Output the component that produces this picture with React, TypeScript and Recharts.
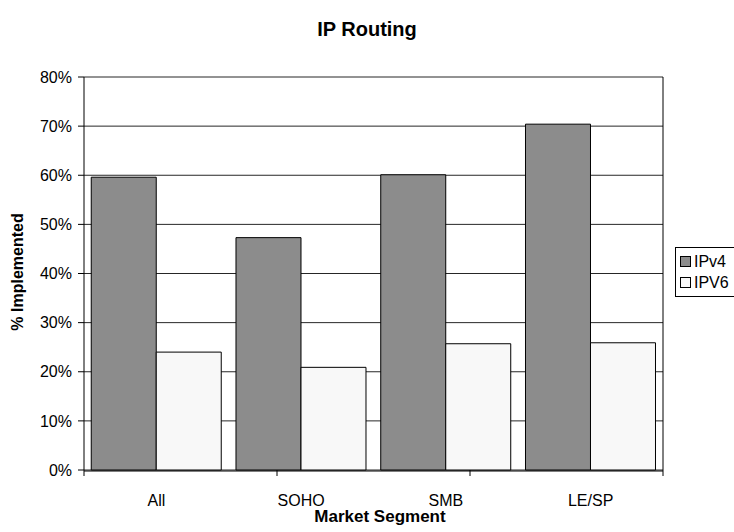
import { Bar, BarChart, CartesianGrid, Legend, XAxis, YAxis } from 'recharts';

const segments = ['All', 'SOHO', 'SMB', 'LE/SP'];
const ipv4 = [59.6, 47.3, 60.1, 70.4];
const ipv6 = [24.0, 20.9, 25.7, 25.9];
const yTicks = [0, 10, 20, 30, 40, 50, 60, 70, 80];
const boundaryTicks = [0, 1, 2, 3, 4];

const data = segments.map((segment, i) => ({ segment, ipv4: ipv4[i], ipv6: ipv6[i] }));

const font = '"Liberation Sans", Arial, sans-serif';

function LegendBox() {
  const item = (fill: string, label: string) => (
    <div style={{ display: 'flex', alignItems: 'center', height: 21 }}>
      <span
        style={{
          width: 9,
          height: 9,
          background: fill,
          border: '1px solid #000',
          marginRight: 3,
          display: 'inline-block',
        }}
      />
      <span>{label}</span>
    </div>
  );
  return (
    <div
      style={{
        border: '1px solid #000',
        width: 64,
        padding: '3px 0 3px 4px',
        fontFamily: font,
        fontSize: 16,
        color: '#000',
        background: '#fff',
      }}
    >
      {item('#8c8c8c', 'IPv4')}
      {item('#f8f8f8', 'IPV6')}
    </div>
  );
}

export default function App() {
  return (
    <div style={{ position: 'absolute', left: 0, top: 0, width: 734, height: 532, overflow: 'hidden', background: '#fff' }}>
      <div
        style={{
          position: 'absolute',
          top: 18,
          left: 0,
          width: 734,
          textAlign: 'center',
          fontFamily: font,
          fontWeight: 'bold',
          fontSize: 20,
        }}
      >
        IP Routing
      </div>
      <div
        style={{
          position: 'absolute',
          top: 507,
          left: 84,
          width: 592,
          textAlign: 'center',
          fontFamily: font,
          fontWeight: 'bold',
          fontSize: 17,
        }}
      >
        Market Segment
      </div>
      <div
        style={{
          position: 'absolute',
          left: 18,
          top: 272,
          transform: 'translate(-50%, -50%) rotate(-90deg)',
          whiteSpace: 'nowrap',
          fontFamily: font,
          fontWeight: 'bold',
          fontSize: 16,
        }}
      >
        % Implemented
      </div>
      <BarChart
        width={734}
        height={532}
        data={data}
        barGap={0}
        barCategoryGap="5%"
        margin={{ top: 77, right: 0, bottom: 22, left: 24 }}
        style={{ fontFamily: font }}
      >
        <CartesianGrid vertical={false} stroke="#000" strokeOpacity={0.85} />
        <XAxis
          xAxisId="b"
          type="number"
          domain={[0, 4]}
          ticks={boundaryTicks}
          tickFormatter={() => ''}
          height={1}
          axisLine={false}
          tickLine={{ stroke: '#000' }}
          tickSize={6}
        />
        <XAxis
          xAxisId="cat"
          dataKey="segment"
          height={39}
          tickLine={false}
          axisLine={{ stroke: '#000' }}
          tick={{ fill: '#000', fontSize: 16 }}
          tickMargin={18}
        />
        <YAxis
          domain={[0, 80]}
          ticks={yTicks}
          tickFormatter={(v: number) => `${v}%`}
          width={60}
          axisLine={{ stroke: '#000' }}
          tickLine={{ stroke: '#000' }}
          tickSize={6}
          tickMargin={6}
          tick={{ fill: '#000', fontSize: 16 }}
          interval={0}
        />
        <YAxis
          yAxisId="r"
          orientation="right"
          domain={[0, 80]}
          tick={false}
          tickLine={false}
          width={1}
          axisLine={{ stroke: '#000' }}
        />
        <Legend
          layout="vertical"
          align="right"
          verticalAlign="middle"
          content={() => <LegendBox />}
          wrapperStyle={{ position: 'absolute', left: 675, top: 247, width: 70 }}
        />
        <Bar xAxisId="cat" dataKey="ipv4" name="IPv4" fill="#8c8c8c" stroke="#000" strokeWidth={1} isAnimationActive={false} />
        <Bar xAxisId="cat" dataKey="ipv6" name="IPV6" fill="#f8f8f8" stroke="#000" strokeWidth={1} isAnimationActive={false} />
      </BarChart>
    </div>
  );
}
